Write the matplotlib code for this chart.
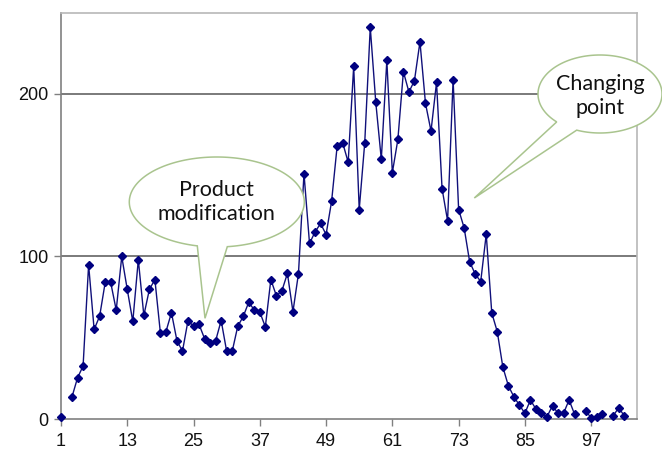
import numpy as np
import matplotlib
matplotlib.use("Agg")
import matplotlib.pyplot as plt
from matplotlib.patches import Polygon

plt.rcParams["font.family"] = ["Liberation Sans", "DejaVu Sans"]

nan = np.nan
values = [1, nan, 13.7, 25.4, 32.6, 94.9, 55.1, 63.3, 84, 84,
          67, 100, 79.7, 60, 98, 63.7, 79.7, 85.8, 52.9, 53.7,
          65.4, 48.1, 41.8, 60.6, 57, 58.2, 49.4, 46.5, 48.1, 60.6,
          41.6, 41.6, 57, 63.1, 71.9, 67, 65.8, 56.7, 85.8, 75.8,
          78.9, 89.6, 66, 89.5, 151, 108, 115.1, 120.3, 113.5, 134,
          167.8, 170, 158, 217, 128.9, 170, 241, 194.8, 159.8, 220.6,
          151.6, 172, 213.7, 201.2, 208.2, 232.1, 194.2, 177.2, 207.1, 141.8,
          122, 208.8, 128.9, 117.6, 96.7, 89.2, 84.6, 113.7, 65.3, 53.7,
          32.1, 20.5, 13.7, 8.6, 3.5, 11.7, 6.1, 3.5, 1.4, 8.2,
          3.5, 3.5, 11.7, 2.9, nan, 4.9, 0.8, 1.4, 2.9, nan,
          2, 7, 1.8]
x_index = list(range(1, len(values) + 1))
x_ticks = [1, 13, 25, 37, 49, 61, 73, 85, 97]
y_ticks = [0, 100, 200]
callout_texts = ["Product\nmodification", "Changing\npoint"]

W, H = 662, 450
fig = plt.figure(figsize=(W / 100, H / 100), dpi=100)
fig.patch.set_facecolor("white")

def fx(px):
    return px / W

def fy(py):
    return 1 - py / H

ax = fig.add_axes([fx(61), fy(419), fx(637) - fx(61), fy(12.7) - fy(419)])
ax.set_xlim(1, 105.3)
ax.set_ylim(0, 250)

ax.plot(x_index, values, color="#10107a", linewidth=1.0, marker="D",
        markersize=4.5, markerfacecolor="#000080", markeredgecolor="#000080",
        clip_on=False, zorder=3)

for v in y_ticks[1:]:
    ax.axhline(v, color="#707070", linewidth=1.3, zorder=1)

ax.set_xticks(x_ticks)
ax.set_yticks(y_ticks)
ax.tick_params(axis="both", direction="out", length=5, width=1, color="#808080",
               labelsize=13, labelcolor="#111111")
ax.tick_params(axis="x", pad=5)
ax.tick_params(axis="y", pad=4)

ax.spines["left"].set_color("#808080")
ax.spines["bottom"].set_color("#808080")
ax.spines["top"].set_color("#b8b8b8")
ax.spines["right"].set_color("#b8b8b8")
for s in ax.spines.values():
    s.set_linewidth(1.2)

def callout(cx, cy, rx, ry, bx1, bx2, tip, text, text_y_off=0):
    a1 = np.arccos(np.clip((bx1 - cx) / rx, -1, 1))
    a2 = np.arccos(np.clip((bx2 - cx) / rx, -1, 1))
    lo, hi = min(a1, a2), max(a1, a2)
    ts = np.linspace(hi, lo + 2 * np.pi, 200)
    pts = [(cx + rx * np.cos(t), cy + ry * np.sin(t)) for t in ts]
    pts.append(tip)
    verts = [(fx(px), fy(py)) for px, py in pts]
    poly = Polygon(verts, closed=True, transform=fig.transFigure,
                   facecolor="white", edgecolor="#a9c48e", linewidth=1.1,
                   zorder=10)
    fig.add_artist(poly)
    fig.text(fx(cx), fy(cy + text_y_off), text, ha="center", va="center",
             fontsize=15.5, family="Lato", color="#111111", linespacing=1.25,
             zorder=11)

callout(216.8, 202, 87.5, 45, 197.3, 227.3, (205, 318.3), callout_texts[0])
callout(600, 94, 62, 39, 556.7, 576.7, (474.3, 198), callout_texts[1], text_y_off=2)

fig.savefig("out.png", dpi=100, facecolor="white")
